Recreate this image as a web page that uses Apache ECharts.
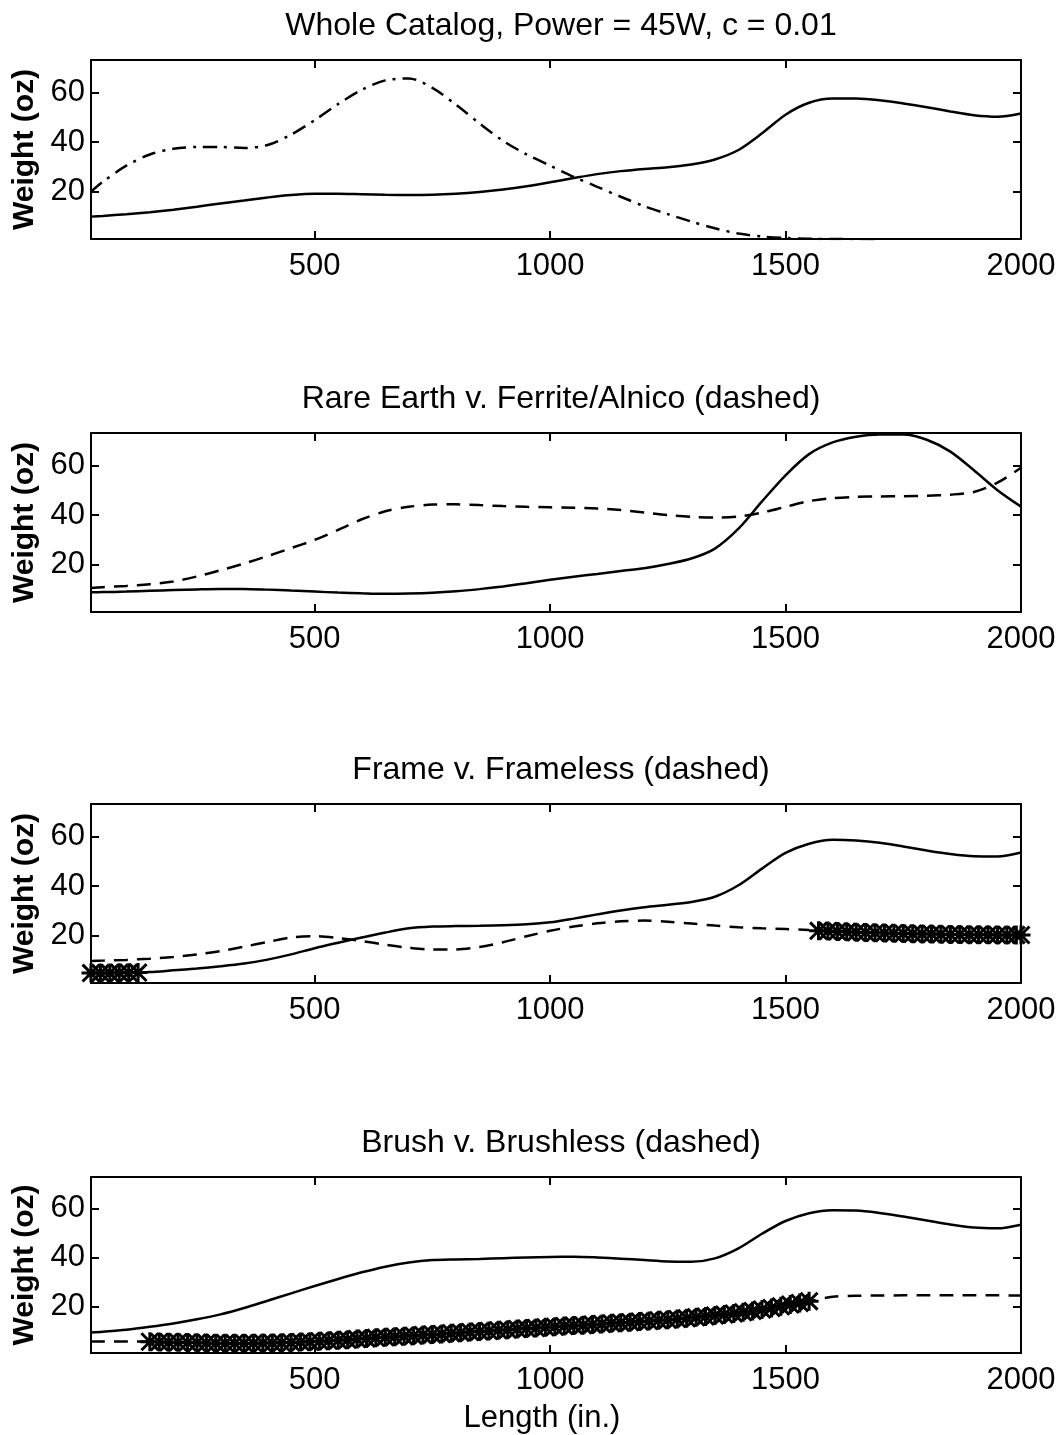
<!DOCTYPE html>
<html>
<head>
<meta charset="utf-8">
<title>Weight vs Length</title>
<script src="https://cdn.jsdelivr.net/npm/echarts@6/dist/echarts.min.js"></script>
<style>
html, body { margin: 0; padding: 0; background: #fff; }
#chart { width: 1062px; height: 1435px; }
</style>
</head>
<body>
<div id="chart"></div>
<script>
// tick labels
var xTicks = [500, 1000, 1500, 2000]
var yTicks = [20, 40, 60]

// lengths (in.) at which the curves were read
var lengthX = [25, 50, 100, 150, 200, 250, 300, 350, 400, 450,
  500, 550, 600, 650, 700, 750, 800, 850, 900, 950,
  1000, 1050, 1100, 1150, 1200, 1250, 1300, 1350, 1400, 1450,
  1500, 1550, 1600, 1650, 1700, 1750, 1800, 1850, 1900, 1950,
  2000]

// panel 1: whole catalog
var wholeSolid = [10, 10.3, 11, 11.8, 12.8, 14, 15.3, 16.5, 17.7, 18.7,
  19.2, 19.2, 19, 18.8, 18.7, 18.8, 19.2, 19.9, 20.9, 22.2,
  23.8, 25.5, 27.1, 28.3, 29.2, 29.9, 31, 33, 36.8, 43.5,
  51, 55.8, 57.5, 57.5, 56.8, 55.5, 54, 52.3, 50.8, 50.2,
  51.5]
var wholeDashDot = [20, 24, 30.5, 35, 37.3, 38, 38, 37.6, 38.8, 43,
  48.8, 55.3, 61, 64.8, 65.6, 61.8, 55, 47.5, 40.5, 35,
  30.5, 26, 22, 18, 14.2, 11, 8, 5.3, 3.2, 2,
  1.4, 1.1, 1, 0.9, 0.8, null, null, null, null, null,
  null]

// panel 2: rare earth (solid) v. ferrite/alnico (dashed)
var rareEarth = [8.9, 9, 9.2, 9.5, 9.8, 10.1, 10.3, 10.3, 10, 9.6,
  9.2, 8.8, 8.5, 8.3, 8.4, 8.7, 9.3, 10.2, 11.3, 12.6,
  14, 15.2, 16.3, 17.5, 18.6, 20.3, 22.5, 26.5, 34.5, 45.5,
  56, 64.5, 69.2, 71.5, 72.4, 72.4, 70.3, 65.5, 58, 50,
  43.4]
var ferrite = [10.7, 11, 11.5, 12.2, 13.3, 15.3, 17.8, 20.5, 23.5, 26.7,
  30, 34, 38.3, 41.5, 43.3, 44.2, 44.3, 44, 43.6, 43.3,
  43.1, 42.9, 42.6, 42, 41, 40, 39.3, 39, 39.4, 41,
  43.3, 45.6, 46.8, 47.3, 47.5, 47.6, 47.8, 48.2, 49.3, 53,
  59]

// panel 3: frame (solid) v. frameless (dashed)
var frame = [5, 5, 5.1, 5.4, 6.1, 6.8, 7.7, 8.8, 10.4, 12.5,
  15, 17.2, 19.3, 21.3, 23, 23.7, 23.9, 24, 24.2, 24.6,
  25.4, 26.9, 28.6, 30.2, 31.5, 32.5, 33.6, 35.7, 40.3, 47,
  53.3, 57, 58.6, 58.3, 57.4, 55.9, 54.3, 52.9, 52, 51.9,
  53.5]
var frameless = [9.8, 10, 10.3, 10.8, 11.5, 12.5, 13.8, 15.6, 17.5, 19.3,
  19.8, 19.1, 17.9, 16.4, 15.2, 14.5, 14.5, 15.5, 17.4, 19.8,
  22, 23.7, 25, 25.8, 26.1, 25.6, 24.9, 24.1, 23.4, 23,
  22.7, 22.3, null, null, null, null, null, null, null, null,
  null]
var frameMarkX = [25, 45, 65, 85, 105, 125]
var frameMarkY = [5, 5, 5, 5.1, 5.1, 5.2]
var framelessMarkX = [1570, 1590, 1610, 1630, 1650, 1670, 1690, 1710, 1730, 1750,
  1770, 1790, 1810, 1830, 1850, 1870, 1890, 1910, 1930, 1950,
  1970, 1990, 2000]
var framelessMarkY = [22, 21.9, 21.7, 21.6, 21.4, 21.3, 21.2, 21.1, 21, 20.9,
  20.8, 20.7, 20.7, 20.6, 20.5, 20.5, 20.4, 20.4, 20.4, 20.3,
  20.3, 20.3, 20.3]

// panel 4: brush (solid) v. brushless (dashed)
var brush = [9.4, 9.7, 10.5, 11.7, 13.1, 14.8, 16.8, 19.4, 22.4, 25.4,
  28.4, 31.3, 34, 36.3, 38, 39, 39.3, 39.5, 39.8, 40.1,
  40.3, 40.4, 40.1, 39.6, 39, 38.4, 38.3, 39.7, 43.8, 49.8,
  55, 58.2, 59.4, 59.3, 58.3, 56.8, 55.2, 53.6, 52.3, 52,
  53.5]
var brushless = [5.7, 5.7, 5.7, 5.6, 5.4, 5.2, 5, 5, 5.1, 5.3,
  5.7, 6.2, 6.8, 7.4, 8, 8.6, 9.2, 9.8, 10.4, 11,
  11.6, 12.2, 12.8, 13.4, 14, 14.6, 15.4, 16.3, 17.4, 18.8,
  20.4, 22.2, 24, 24.4, 24.5, 24.6, 24.6, 24.6, 24.6, 24.6,
  24.5]
var brushlessMarkX = [150, 170, 190, 210, 230, 250, 270, 290, 310, 330,
  350, 370, 390, 410, 430, 450, 470, 490, 510, 530,
  550, 570, 590, 610, 630, 650, 670, 690, 710, 730,
  750, 770, 790, 810, 830, 850, 870, 890, 910, 930,
  950, 970, 990, 1010, 1030, 1050, 1070, 1090, 1110, 1130,
  1150, 1170, 1190, 1210, 1230, 1250, 1270, 1290, 1310, 1330,
  1350, 1370, 1390, 1410, 1430, 1450, 1470, 1490, 1510, 1530,
  1550]
var brushlessMarkY = [5.6, 5.5, 5.4, 5.4, 5.3, 5.2, 5.1, 5, 5, 5,
  5, 5, 5.1, 5.1, 5.2, 5.3, 5.5, 5.6, 5.8, 6,
  6.2, 6.4, 6.7, 6.9, 7.2, 7.4, 7.6, 7.9, 8.1, 8.4,
  8.6, 8.8, 9.1, 9.3, 9.6, 9.8, 10, 10.3, 10.5, 10.8,
  11, 11.2, 11.5, 11.7, 12, 12.2, 12.4, 12.7, 12.9, 13.2,
  13.4, 13.6, 13.9, 14.1, 14.4, 14.6, 14.9, 15.2, 15.6, 15.9,
  16.3, 16.7, 17.2, 17.7, 18.2, 18.8, 19.4, 20.1, 20.8, 21.5,
  22.2]

var titles = ['Whole Catalog, Power = 45W, c = 0.01', 'Rare Earth v. Ferrite/Alnico (dashed)', 'Frame v. Frameless (dashed)', 'Brush v. Brushless (dashed)']

var font = 'Liberation Sans, Arial, Helvetica, sans-serif'
var tops = [60, 433, 804, 1177]
var plotH = 179
// matlab style '*' marker
var asterisk = 'path://M0,42H100V58H0Z M42,0H58V100H42Z M11,0L100,89L89,100L0,11Z M89,0L100,11L11,100L0,89Z'

function pairs (xs, ys) {
  var out = []
  for (var k = 0; k < xs.length; k++) {
    if (ys[k] != null) out.push([xs[k], ys[k]])
  }
  return out
}
function plain (v) { return String(v) }

var chart = echarts.init(document.getElementById('chart'), null, { renderer: 'canvas' })

var grid = [], xAxis = [], yAxis = [], title = [], series = []
for (var i = 0; i < 4; i++) {
  grid.push({ left: 91, right: 41, top: tops[i], height: plotH, show: true, borderColor: '#000', borderWidth: 2 })
  title.push({
    text: titles[i], left: 556, textAlign: 'center', top: tops[i] - 55,
    textStyle: { color: '#000', fontFamily: font, fontSize: 32, fontWeight: 'normal' }
  })
  // bottom + top x axes (the top one only carries inward ticks)
  ;['bottom', 'top'].forEach(function (pos) {
    xAxis.push({
      type: 'value', gridIndex: i, position: pos, min: 25, max: 2000,
      axisLine: { show: false }, splitLine: { show: false },
      axisTick: { show: true, inside: true, length: 8, customValues: pos == 'bottom' ? xTicks : [500, 1000, 1500], lineStyle: { color: '#000', width: 2 } },
      axisLabel: { show: pos == 'bottom', customValues: xTicks, formatter: plain, color: '#000', fontFamily: font, fontSize: 31, margin: 12 },
      name: (i == 3 && pos == 'bottom') ? 'Length (in.)' : '',
      nameLocation: 'middle', nameGap: 50,
      nameTextStyle: { color: '#000', fontFamily: font, fontSize: 31, padding: [0, 28, 0, 0] }
    })
  })
  ;['left', 'right'].forEach(function (pos) {
    yAxis.push({
      type: 'value', gridIndex: i, position: pos, min: 1, max: 73,
      axisLine: { show: false }, splitLine: { show: false },
      axisTick: { show: true, inside: true, length: 8, customValues: yTicks, lineStyle: { color: '#000', width: 2 } },
      axisLabel: { show: pos == 'left', customValues: yTicks, formatter: plain, color: '#000', fontFamily: font, fontSize: 31, margin: 6 },
      name: pos == 'left' ? 'Weight (oz)' : '',
      nameLocation: 'middle', nameGap: 46, nameRotate: 90,
      nameTextStyle: { color: '#000', fontFamily: font, fontSize: 30, fontWeight: 'bold' }
    })
  })
}

function curve (i, ys, type) {
  return {
    type: 'line', xAxisIndex: i * 2, yAxisIndex: i * 2, data: pairs(lengthX, ys),
    showSymbol: false, smooth: 0.3, silent: true,
    lineStyle: { color: '#000', width: 2.5, type: type || 'solid' }
  }
}
function stars (i, xs, ys) {
  return {
    type: 'scatter', xAxisIndex: i * 2, yAxisIndex: i * 2, data: pairs(xs, ys),
    symbol: asterisk, symbolSize: 19, silent: true,
    itemStyle: { color: '#000', opacity: 1 }
  }
}

var dashed = [14, 9]
series.push(curve(0, wholeSolid))
series.push(curve(0, wholeDashDot, [14, 7, 3, 7]))
series.push(curve(1, rareEarth))
series.push(curve(1, ferrite, dashed))
series.push(curve(2, frame))
series.push(curve(2, frameless, dashed))
series.push(stars(2, frameMarkX, frameMarkY))
series.push(stars(2, framelessMarkX, framelessMarkY))
series.push(curve(3, brush))
series.push(curve(3, brushless, dashed))
series.push(stars(3, brushlessMarkX, brushlessMarkY))

chart.setOption({
  animation: false,
  backgroundColor: '#fff',
  title: title,
  grid: grid,
  xAxis: xAxis,
  yAxis: yAxis,
  series: series
})
</script>
</body>
</html>
